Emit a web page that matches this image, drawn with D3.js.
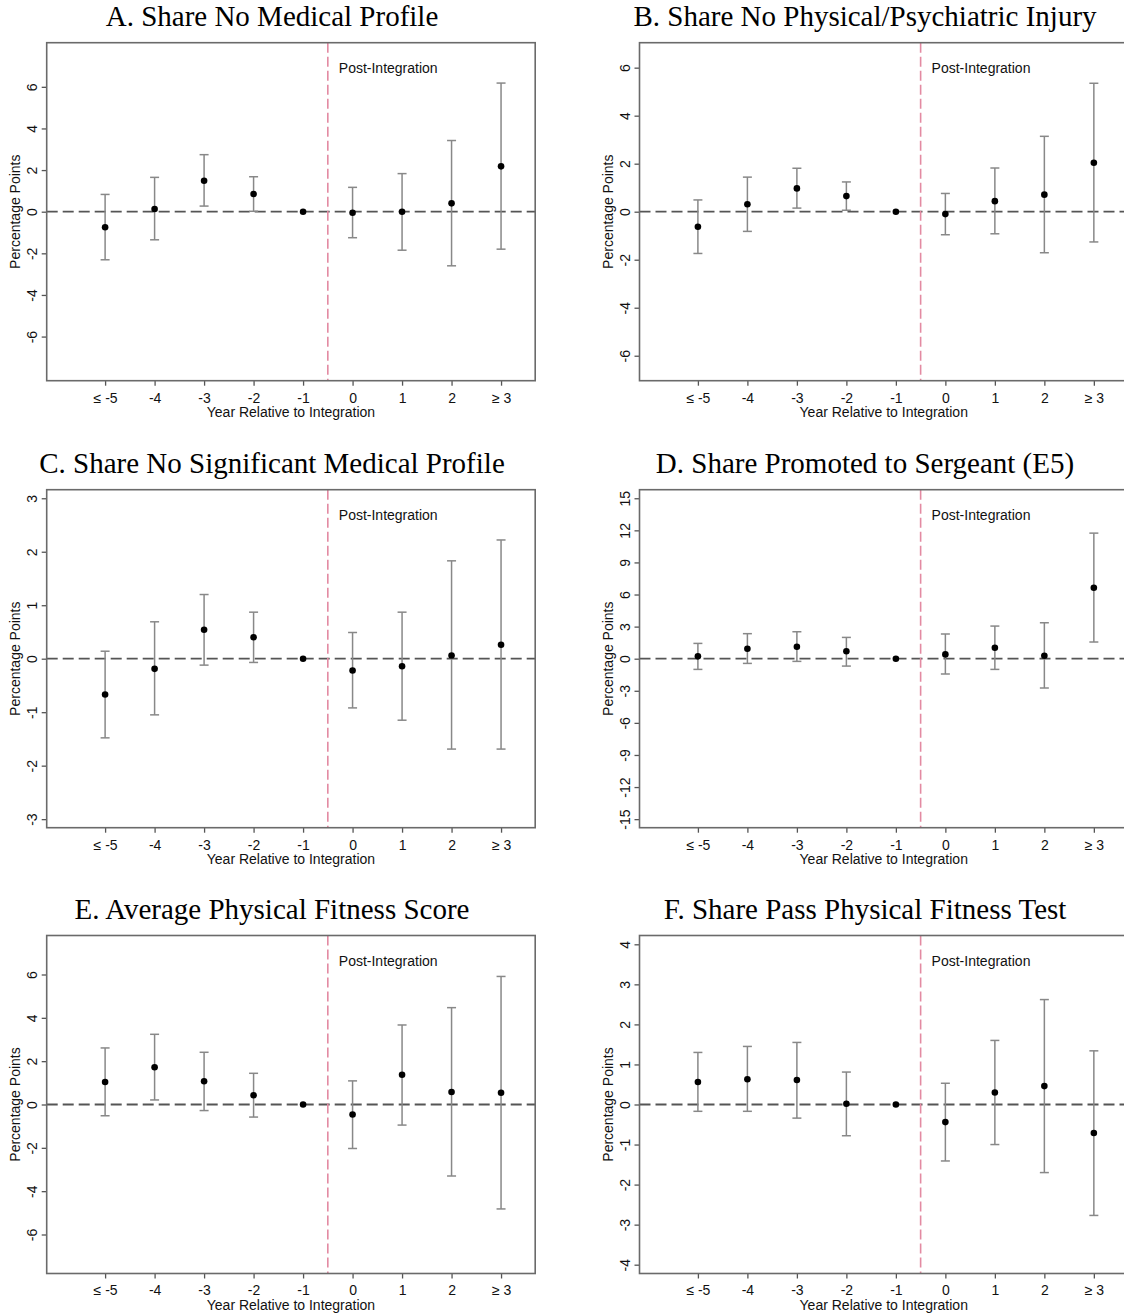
<!DOCTYPE html>
<html><head><meta charset="utf-8">
<script src="https://cdn.jsdelivr.net/npm/d3@7"></script>
<style>body{margin:0;background:#fff}svg{display:block}</style>
</head><body>
<svg id="c" width="1124" height="1316"></svg>
<script>
// ---------- data ----------
const categories = ["≤ -5","-4","-3","-2","-1","0","1","2","≥ 3"];
const eventYears = [-5,-4,-3,-2,-1,0,1,2,3];
const panelTitles = [
  "A. Share No Medical Profile",
  "B. Share No Physical/Psychiatric Injury",
  "C. Share No Significant Medical Profile",
  "D. Share Promoted to Sergeant (E5)",
  "E. Average Physical Fitness Score",
  "F. Share Pass Physical Fitness Test"
];
const xAxisTitle = "Year Relative to Integration";
const yAxisTitle = "Percentage Points";
const markerLabel = "Post-Integration";

const estA = [-0.75, 0.13, 1.49, 0.85, 0, -0.05, 0.00, 0.40, 2.18];
const loA  = [-2.31, -1.35, 0.27, 0.02, null, -1.25, -1.85, -2.60, -1.80];
const hiA  = [0.83, 1.65, 2.74, 1.68, null, 1.17, 1.83, 3.42, 6.18];

const estB = [-0.63, 0.31, 0.97, 0.65, 0, -0.10, 0.44, 0.71, 2.04];
const loB  = [-1.74, -0.82, 0.15, 0.06, null, -0.96, -0.92, -1.71, -1.26];
const hiB  = [0.49, 1.44, 1.81, 1.24, null, 0.76, 1.82, 3.14, 5.35];

const estC = [-0.67, -0.19, 0.54, 0.40, 0, -0.22, -0.14, 0.06, 0.26];
const loC  = [-1.48, -1.05, -0.12, -0.07, null, -0.92, -1.15, -1.69, -1.69];
const hiC  = [0.14, 0.69, 1.20, 0.87, null, 0.49, 0.87, 1.83, 2.22];

const estD = [0.22, 0.93, 1.12, 0.69, 0, 0.40, 1.03, 0.28, 6.64];
const loD  = [-1.00, -0.44, -0.25, -0.69, null, -1.43, -1.00, -2.74, 1.56];
const hiD  = [1.43, 2.34, 2.52, 1.99, null, 2.31, 3.05, 3.36, 11.74];

const estE = [1.04, 1.72, 1.07, 0.43, 0, -0.46, 1.37, 0.58, 0.54];
const loE  = [-0.52, 0.21, -0.28, -0.58, null, -2.03, -0.95, -3.30, -4.82];
const hiE  = [2.61, 3.24, 2.41, 1.44, null, 1.09, 3.67, 4.47, 5.91];

const estF = [0.56, 0.63, 0.61, 0.02, 0, -0.44, 0.30, 0.46, -0.71];
const loF  = [-0.17, -0.17, -0.34, -0.78, null, -1.41, -1.00, -1.70, -2.77];
const hiF  = [1.30, 1.45, 1.55, 0.81, null, 0.53, 1.60, 2.62, 1.34];

const yTicksA = [-6,-4,-2,0,2,4,6];
const yTicksB = [-6,-4,-2,0,2,4,6];
const yTicksC = [-3,-2,-1,0,1,2,3];
const yTicksD = [-15,-12,-9,-6,-3,0,3,6,9,12,15];
const yTicksE = [-6,-4,-2,0,2,4,6];
const yTicksF = [-4,-3,-2,-1,0,1,2,3,4];

const yExtentA = 8.12, yExtentB = 7.04, yExtentC = 3.16,
      yExtentD = 15.8, yExtentE = 7.8, yExtentF = 4.22;

const integrationCut = -0.5;
const xDomain = [-6.18, 3.69];

// ---------- layout ----------
const panels = [
  {est: estA, lo: loA, hi: hiA, ticks: yTicksA, ext: yExtentA},
  {est: estB, lo: loB, hi: hiB, ticks: yTicksB, ext: yExtentB},
  {est: estC, lo: loC, hi: hiC, ticks: yTicksC, ext: yExtentC},
  {est: estD, lo: loD, hi: hiD, ticks: yTicksD, ext: yExtentD},
  {est: estE, lo: loE, hi: hiE, ticks: yTicksE, ext: yExtentE},
  {est: estF, lo: loF, hi: hiF, ticks: yTicksF, ext: yExtentF}
];
const colLeft = [46.7, 639.5];
const rowTop = [42.7, 489.7, 935.5];
const rowOffset = [0, 447, 893];
const W = 488.5, H = 338;

const svg = d3.select("#c");
const sans = "'Liberation Sans', Arial, sans-serif";
const serif = "'Liberation Serif', 'Times New Roman', serif";

panels.forEach((p, k) => {
  const col = k % 2, row = Math.floor(k / 2);
  const x0 = colLeft[col], y0 = rowTop[row];
  const g = svg.append("g").attr("transform", `translate(${x0},${y0})`);
  const x = d3.scaleLinear().domain(xDomain).range([0, W]);
  const y = d3.scaleLinear().domain([-p.ext, p.ext]).range([H, 0]);

  // title
  svg.append("text")
    .attr("x", col === 0 ? 272 : 865)
    .attr("y", rowOffset[row] + 26)
    .attr("text-anchor", "middle")
    .style("font-family", serif).style("font-size", "29px").attr("fill", "#000")
    .text(panelTitles[k]);

  // zero line
  g.append("line")
    .attr("x1", 0).attr("x2", W).attr("y1", y(0)).attr("y2", y(0))
    .attr("stroke", "#555").attr("stroke-width", 1.8).attr("stroke-dasharray", "11,5");

  // integration line
  g.append("line")
    .attr("x1", x(integrationCut)).attr("x2", x(integrationCut)).attr("y1", 0).attr("y2", H)
    .attr("stroke", "#e38aa2").attr("stroke-width", 1.6).attr("stroke-dasharray", "10,4");

  g.append("text")
    .attr("x", x(integrationCut) + 11).attr("y", 30)
    .style("font-family", sans).style("font-size", "14px").attr("fill", "#111")
    .text(markerLabel);

  // error bars
  const rows = eventYears.map((yr, i) => ({yr, est: p.est[i], lo: p.lo[i], hi: p.hi[i]}));
  const eb = rows.filter(d => d.lo !== null);
  const bars = g.append("g").attr("stroke", "#888").attr("stroke-width", 1.5);
  bars.selectAll(".v").data(eb).join("line")
    .attr("x1", d => x(d.yr)).attr("x2", d => x(d.yr))
    .attr("y1", d => y(d.lo)).attr("y2", d => y(d.hi));
  bars.selectAll(".t").data(eb).join("line")
    .attr("x1", d => x(d.yr) - 4.5).attr("x2", d => x(d.yr) + 4.5)
    .attr("y1", d => y(d.hi)).attr("y2", d => y(d.hi));
  bars.selectAll(".b").data(eb).join("line")
    .attr("x1", d => x(d.yr) - 4.5).attr("x2", d => x(d.yr) + 4.5)
    .attr("y1", d => y(d.lo)).attr("y2", d => y(d.lo));

  // points
  g.selectAll("circle").data(rows).join("circle")
    .attr("cx", d => x(d.yr)).attr("cy", d => y(d.est)).attr("r", 3.3).attr("fill", "#000");

  // axes
  const xa = g.append("g").attr("transform", `translate(0,${H})`)
    .call(d3.axisBottom(x).tickValues(eventYears).tickFormat((d, i) => categories[i])
      .tickSize(5).tickPadding(7).tickSizeOuter(0));
  xa.select(".domain").remove();
  xa.selectAll("line").attr("stroke", "#555").attr("stroke-width", 1.3);
  xa.selectAll("text").style("font-family", sans).style("font-size", "14px").attr("fill", "#111");

  const ya = g.append("g")
    .call(d3.axisLeft(y).tickValues(p.ticks).tickFormat(d => String(d)).tickSize(5).tickSizeOuter(0));
  ya.select(".domain").remove();
  ya.selectAll("line").attr("stroke", "#555").attr("stroke-width", 1.3);
  ya.selectAll("text")
    .attr("x", 0).attr("y", 0).attr("dy", 0)
    .attr("text-anchor", "middle")
    .attr("transform", "translate(-10,0) rotate(-90)")
    .style("font-family", sans).style("font-size", "14px").attr("fill", "#111");

  // frame
  g.append("rect").attr("x", 0).attr("y", 0).attr("width", W).attr("height", H)
    .attr("fill", "none").attr("stroke", "#6a6a6a").attr("stroke-width", 1.6);

  // axis titles
  g.append("text")
    .attr("x", W / 2).attr("y", H + 36.5)
    .attr("text-anchor", "middle")
    .style("font-family", sans).style("font-size", "14px").attr("fill", "#111")
    .text(xAxisTitle);

  g.append("text")
    .attr("transform", `translate(${-x0 + (col === 0 ? 19.5 : 612.5)},${H / 2}) rotate(-90)`)
    .attr("text-anchor", "middle")
    .style("font-family", sans).style("font-size", "14px").attr("fill", "#111")
    .text(yAxisTitle);
});
</script>
</body></html>
